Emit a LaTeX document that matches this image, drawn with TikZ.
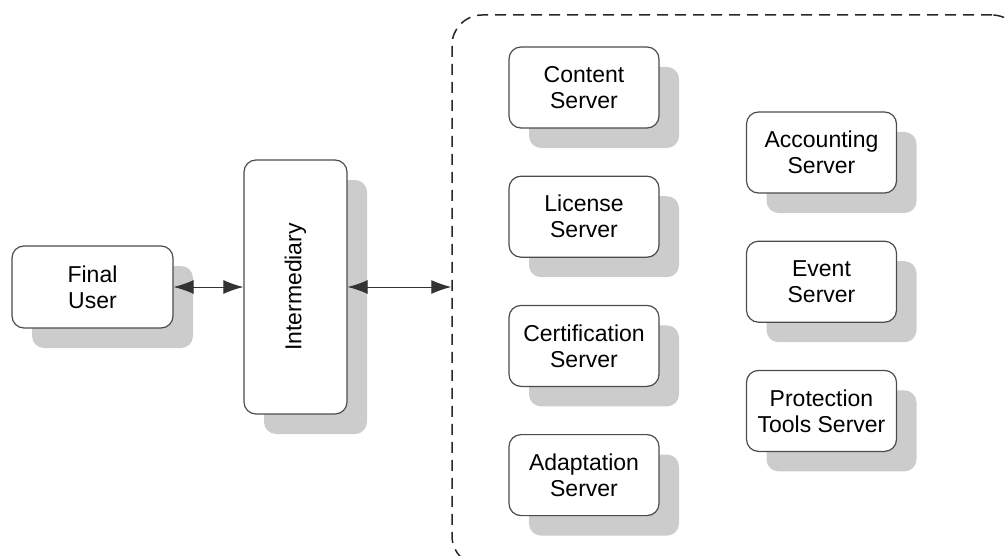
\documentclass[tikz,border=0pt]{standalone}
\usepackage{fontspec}
\setmainfont{Liberation Sans}
\usetikzlibrary{positioning, arrows.meta, shadows}

\begin{document}
\begin{tikzpicture}[
  x=0.5pt, y=-0.5pt,
  node distance=23.5pt,
  shadowed/.style={drop shadow={shadow xshift=10pt, shadow yshift=-10pt, fill=black!20, opacity=1}},
  serverbox/.style={draw=black!70, line width=0.6pt, fill=white, rounded corners=6pt, shadowed,
    minimum width=75pt, minimum height=40.5pt, align=center, inner sep=1pt,
    font=\fontsize{11.5}{13}\selectfont},
  userbox/.style={serverbox, minimum width=80.5pt, minimum height=41pt},
  tallbox/.style={serverbox, minimum width=51.5pt, minimum height=127pt},
  domainbox/.style={draw=black!85, line width=0.75pt, dash pattern=on 5.5pt off 3.5pt, rounded corners=15pt,
    minimum width=285pt, minimum height=275.5pt},
  arrow/.style={{Latex[length=10pt, width=7pt]}-{Latex[length=10pt, width=7pt]}, line width=0.5pt, draw=black!80},
]
  \useasboundingbox (0,0) rectangle (1006,556);

  % Dashed domain round the servers
  \node (domain) [domainbox] at (737,290.5) {};

  % Client side
  \node (user) [userbox] at (92.5,287) {Final\\User};
  \node (intermediary) [tallbox] at (295.5,287) {\rotatebox{90}{Intermediary}};

  % Left column of servers
  \node (content) [serverbox] at (584,87.5) {Content\\Server};
  \node (license) [serverbox, below=of content] {License\\Server};
  \node (certification) [serverbox, below=of license] {Certification\\Server};
  \node (adaptation) [serverbox, below=of certification] {Adaptation\\Server};

  % Right column of servers
  \node (accounting) [serverbox] at (821.5,152.5) {Accounting\\Server};
  \node (event) [serverbox, below=of accounting] {Event\\Server};
  \node (protection) [serverbox, below=of event] {Protection\\Tools Server};

  % Connections
  \draw [arrow] (user.east) -- (intermediary.west);
  \draw [arrow] (intermediary.east) -- (intermediary.east -| domain.west);

\end{tikzpicture}
\end{document}
